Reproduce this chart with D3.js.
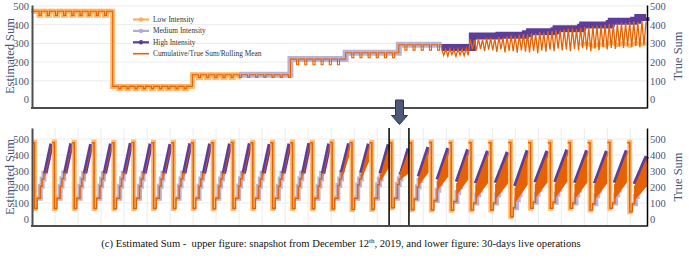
<!DOCTYPE html>
<html>
<head>
<meta charset="utf-8">
<script src="https://cdnjs.cloudflare.com/ajax/libs/d3/7.8.5/d3.min.js"></script>
<style>
  body { margin: 0; background: #fff; }
  svg { display: block; }
  svg text { font-family: "Liberation Serif", "Times New Roman", serif; }
</style>
</head>
<body>
<svg id="chart" width="689" height="259"></svg>
<script>
const seriesNames = ["Low Intensity", "Medium Intensity", "High Intensity", "Cumulative/True Sum/Rolling Mean"];
const yTicks = [0, 100, 200, 300, 400, 500];

// upper panel: one day snapshot, sample index 0..300 (true / cumulative sum)
const topTrue = [
  472,472,472,450,472,472,472,450,472,472,472,450,472,472,472,450,472,472,472,450,
  472,472,472,450,472,472,472,450,472,472,472,450,472,472,472,450,472,472,472,
  70,70,70,58,70,70,70,58,70,70,70,58,70,70,70,58,70,70,70,58,
  70,70,70,58,70,70,70,58,70,70,70,58,70,70,70,58,70,70,70,
  132,132,132,118,132,132,132,118,132,132,132,118,132,132,132,118,132,132,132,118,132,132,132,118,
  132,132,132,118,132,132,132,118,132,132,132,118,132,132,132,118,132,132,132,118,132,132,132,118,
  216,216,216,186,216,216,216,186,216,216,216,186,216,216,216,186,216,216,216,186,216,216,216,186,216,216,216,
  250,250,250,224,250,250,250,224,250,250,250,224,250,250,250,224,250,250,250,224,250,250,250,224,250,250,
  293,293,293,264,293,293,293,264,293,293,293,264,293,293,293,264,293,293,293,264,293,
  270,236,268,232,272,240,266,230,270,238,268,234,272,236,
  322,268,318,262,325,270,320,258,328,266,
  330,262,326,255,334,268,330,252,338,260,
  342,258,338,250,346,262,350,256,348,252,
  355,260,352,248,360,262,358,255,364,266,
  366,258,370,272,368,262,374,268,378,258,
  380,270,376,262,384,275,388,266,386,258,
  392,272,396,264,394,280,400,268,404,276,
  402,270,408,284,412,276,410,288,416,280,
  418,286,414,278,420,290,416
];
const topLowCount = 102;   // first samples are low intensity estimates
const topStepCount = 200;  // stepped part before high intensity traffic
const topMediumSteps = [[101,132],[126,216],[153,250],[179,293],[200,293]];
const topHighSteps = [[200,278],[214,278],[215,340],[228,344],[241,352],[243,362],[255,368],[256,378],
  [268,386],[269,398],[282,406],[283,418],[294,424],[296,438],[300,440]];
const topLowTail = [[268,292],[271,300],[274,284],[277,296],[280,288],[283,305],[286,290],[289,300],
  [292,286],[295,302],[298,294],[300,300]];

// lower panel: 31 daily cycles
const dayPhase = [0, 0.13, 0.26, 0.42, 0.51, 0.60, 0.99];
const dayPlateau = [480,482,480,481,480,482,480,480,481,480,482,480,480,481,480,482,480,480,481,480,482,480,481,480,482,480,481,480,480,482,480];
const dayReset = [65,65,66,65,64,65,66,65,65,64,65,66,65,65,64,62,60,60,70,58,56,55,56,56,14,67,67,67,56,67,46];
const dayStairs = [
  [130,205,250,285],[130,205,252,286],[130,204,250,284],[130,206,250,285],[130,205,251,286],
  [130,205,250,285],[130,204,250,284],[130,206,252,286],[130,205,250,285],[130,205,250,284],
  [130,206,251,286],[130,205,250,285],[130,204,250,285],[130,205,252,286],[130,205,250,285],
  [130,210,250,290],[130,212,250,292],[130,214,250,293],[130,216,250,293],[125,200,240,275],
  [115,180,220,255],[110,165,200,235],[100,150,180,210],[100,150,180,210],[70,120,150,180],
  [105,155,185,215],[105,155,185,215],[100,150,180,210],[95,145,175,205],[100,150,180,210],
  [95,140,170,200]
];
const dayHighFrom = [0.67,0.67,0.67,0.67,0.67,0.67,0.67,0.67,0.67,0.67,0.67,0.67,0.67,0.67,0.67,
  0.62,0.60,0.58,0.60,0.50,0.45,0.42,0.38,0.38,0.36,0.38,0.38,0.38,0.38,0.38,0.38];
const dayHigh = [
  [285,470],[285,472],[286,468],[285,470],[284,474],[285,470],[286,468],[285,472],[285,470],[284,470],
  [285,472],[286,468],[285,470],[285,474],[284,470],[290,472],[288,470],[285,466],[278,440],[265,448],
  [245,442],[232,435],[222,425],[225,418],[205,428],[228,424],[230,432],[225,428],[222,424],[226,428],
  [218,392]
];
const dayFill = [ // true sum band during high intensity: [lowStart, lowEnd, highStart, highEnd]
  [262,445,280,462],[262,447,280,464],[263,443,281,460],[262,445,280,462],[261,449,279,466],
  [262,445,280,462],[263,443,281,460],[262,447,280,464],[262,445,280,462],[261,445,279,462],
  [262,447,280,464],[263,443,281,460],[262,445,280,462],[262,449,280,466],[261,445,279,462],
  [255,390,285,464],[245,360,282,462],[235,320,280,458],[250,285,300,430],[210,290,260,440],
  [180,265,240,435],[150,245,225,428],[125,225,215,418],[125,220,218,410],[100,215,195,420],
  [130,230,220,416],[130,235,222,424],[125,228,218,420],[120,222,215,416],[125,228,218,420],
  [115,205,210,385]
];
const snapshotDay = 18;
const bottomGrid = d3.range(1.16, 31, 1.16);

const colLow = "#fbb25e", colMed = "#b2abd2", colHigh = "#5e3c99", colTrue = "#e66101";
const axisText = "#4a5574";
const serif = "Liberation Serif, Times New Roman, serif";

const svg = d3.select("#chart");
const left = 32, right = 647;

function panel(y, top, bottom, grid) {
  const g = svg.append("g");
  g.selectAll(".hg").data(yTicks.slice(1)).enter().append("line")
    .attr("x1", left).attr("x2", right)
    .attr("y1", d => y(d)).attr("y2", d => y(d))
    .attr("stroke", "#ececec").attr("stroke-width", 1);
  if (grid) {
    g.selectAll(".vg").data(grid.xs).enter().append("line")
      .attr("x1", d => grid.x(d)).attr("x2", d => grid.x(d))
      .attr("y1", top).attr("y2", bottom)
      .attr("stroke", "#ececec").attr("stroke-width", 1);
  }
}

function axes(y, top, bottom, titleY) {
  const gl = svg.append("g").attr("transform", `translate(${left},0)`)
    .call(d3.axisLeft(y).tickValues(yTicks).tickSize(0).tickPadding(3))
    .attr("font-family", serif);
  gl.select(".domain").attr("stroke", "#4d4d4d").attr("stroke-width", 2);
  gl.selectAll("text").attr("fill", axisText).attr("font-size", 10.5);
  const gr = svg.append("g").attr("transform", `translate(${right},0)`)
    .call(d3.axisRight(y).tickValues(yTicks).tickSize(0).tickPadding(3))
    .attr("font-family", serif);
  gr.select(".domain").attr("stroke", "#000").attr("stroke-width", 1.5);
  gr.selectAll("text").attr("fill", axisText).attr("font-size", 10.5);
  svg.append("line").attr("x1", left - 1).attr("x2", right)
    .attr("y1", bottom).attr("y2", bottom)
    .attr("stroke", "#4d4d4d").attr("stroke-width", 2);
  svg.append("text").attr("transform", `translate(10,${titleY}) rotate(-90)`)
    .attr("text-anchor", "middle").attr("dy", "0.35em").attr("font-family", serif)
    .attr("font-size", 12.5).attr("fill", axisText).text("Estimated Sum");
  svg.append("text").attr("transform", `translate(678,${titleY}) rotate(-90)`)
    .attr("text-anchor", "middle").attr("dy", "0.35em").attr("font-family", serif)
    .attr("font-size", 12.5).attr("fill", axisText).text("True Sum");
}

// ---------- upper panel ----------
const xTop = d3.scaleLinear().domain([0, 300]).range([33, 646]);
const yTop = d3.scaleLinear().domain([-45.5, 505.3]).range([108, 5]);
panel(yTop, 5, 108, null);

const topPts = topTrue.map((v, i) => [i, v]);
const lineTop = d3.line().x(d => xTop(d[0])).y(d => yTop(d[1]));
const plotTop = svg.append("g");

const lowPts = topPts.slice(0, topLowCount);
plotTop.append("path").datum(lowPts)
  .attr("d", lineTop.curve(d3.curveStepAfter))
  .attr("fill", "none").attr("stroke", colLow).attr("stroke-width", 5).attr("opacity", 0.85);
plotTop.selectAll(".lm").data(lowPts).enter().append("circle")
  .attr("cx", d => xTop(d[0])).attr("cy", d => yTop(d[1])).attr("r", 2.4)
  .attr("fill", colLow).attr("opacity", 0.8);
plotTop.append("path").datum(topMediumSteps)
  .attr("d", lineTop.curve(d3.curveStepAfter))
  .attr("fill", "none").attr("stroke", colMed).attr("stroke-width", 6).attr("opacity", 0.9);
plotTop.append("path").datum(topHighSteps)
  .attr("d", lineTop.curve(d3.curveStepAfter))
  .attr("fill", "none").attr("stroke", colHigh).attr("stroke-width", 7);
plotTop.append("path").datum(topLowTail)
  .attr("d", lineTop.curve(d3.curveLinear))
  .attr("fill", "none").attr("stroke", colLow).attr("stroke-width", 4).attr("opacity", 0.9);
plotTop.append("path").datum(topPts.slice(0, topStepCount + 1))
  .attr("d", lineTop.curve(d3.curveStepAfter))
  .attr("fill", "none").attr("stroke", colTrue).attr("stroke-width", 1.1);
plotTop.append("path").datum(topPts.slice(topStepCount))
  .attr("d", lineTop.curve(d3.curveLinear))
  .attr("fill", "none").attr("stroke", colTrue).attr("stroke-width", 1.3);

axes(yTop, 5, 108, 56);

// legend
const legend = svg.append("g");
seriesNames.forEach((name, i) => {
  const ly = 19.5 + i * 11.4;
  const col = [colLow, colMed, colHigh, colTrue][i];
  legend.append("line").attr("x1", 133).attr("x2", 149).attr("y1", ly).attr("y2", ly)
    .attr("stroke", col).attr("stroke-width", i < 3 ? 2.2 : 1.6);
  if (i < 3) legend.append("circle").attr("cx", 141).attr("cy", ly).attr("r", 2.2).attr("fill", col);
  legend.append("text").attr("x", 153).attr("y", ly).attr("dy", "0.33em").attr("font-family", serif)
    .attr("font-size", 7.4).attr("fill", "#333").text(name);
});

// ---------- lower panel ----------
const xBot = d3.scaleLinear().domain([0, 31]).range([32, 647]);
const yBot = d3.scaleLinear().domain([-43.75, 568.75]).range([226, 128]);
panel(yBot, 128, 226, { x: xBot, xs: bottomGrid });

const plotBot = svg.append("g");
const lineBot = d3.line().x(d => xBot(d[0])).y(d => yBot(d[1]));
const areaBot = d3.area().x(d => xBot(d[0])).y0(d => yBot(d[1])).y1(d => yBot(d[2]));

dayPlateau.forEach((p, d) => {
  const s = dayStairs[d], h = dayHigh[d], f = dayFill[d], hf = dayHighFrom[d];
  const low = [[d + dayPhase[0], p], [d + dayPhase[1], dayReset[d]], [d + dayPhase[2], dayReset[d]]];
  const med = s.map((v, k) => [d + dayPhase[k + 2], v]);
  med.push([d + Math.max(hf, dayPhase[5]), s[3]]);
  plotBot.append("path").datum(low).attr("d", lineBot.curve(d3.curveStepAfter))
    .attr("fill", "none").attr("stroke", colLow).attr("stroke-width", 5).attr("opacity", 0.85);
  plotBot.append("path").datum(med).attr("d", lineBot.curve(d3.curveStepAfter))
    .attr("fill", "none").attr("stroke", colMed).attr("stroke-width", 5).attr("opacity", 0.9);
  plotBot.append("path").datum([[d + hf, h[0]], [d + dayPhase[6], h[1]]])
    .attr("d", lineBot.curve(d3.curveLinear))
    .attr("fill", "none").attr("stroke", colHigh).attr("stroke-width", 4.5);
  plotBot.append("path").datum([[d + hf, f[0], f[2]], [d + dayPhase[6], f[1], f[3]]])
    .attr("d", areaBot).attr("fill", colTrue);
  const tr = [[d + dayPhase[0], p - 4], [d + dayPhase[1], dayReset[d]]]
    .concat(med.filter(m => m[0] < d + hf))
    .concat([[d + hf, f[2]]]);
  plotBot.append("path").datum(tr).attr("d", lineBot.curve(d3.curveStepAfter))
    .attr("fill", "none").attr("stroke", colTrue).attr("stroke-width", 1.5);
});

// snapshot markers
[snapshotDay, snapshotDay + 1].forEach(d => {
  svg.append("line").attr("x1", xBot(d)).attr("x2", xBot(d)).attr("y1", 128).attr("y2", 226)
    .attr("stroke", "#000").attr("stroke-width", 1.5);
});

axes(yBot, 128, 226, 177);

// arrow between panels
svg.append("path")
  .attr("d", "M395.5,100 L403.5,100 L403.5,115.5 L407.5,115.5 L399.5,124.5 L391.5,115.5 L395.5,115.5 Z")
  .attr("fill", "#4b5a76").attr("stroke", "#2b3550").attr("stroke-width", 1);

// caption
const cap = svg.append("text").attr("x", 341).attr("y", 247).attr("text-anchor", "middle")
  .attr("font-family", serif).attr("font-size", 10.6).attr("fill", "#111").style("white-space", "pre");
cap.append("tspan").text("(c) Estimated Sum -  upper figure: snapshot from December 12");
cap.append("tspan").attr("dy", -3.8).attr("font-size", 7).text("th");
cap.append("tspan").attr("dy", 3.8).text(", 2019, and lower figure: 30-days live operations");
</script>
</body>
</html>
